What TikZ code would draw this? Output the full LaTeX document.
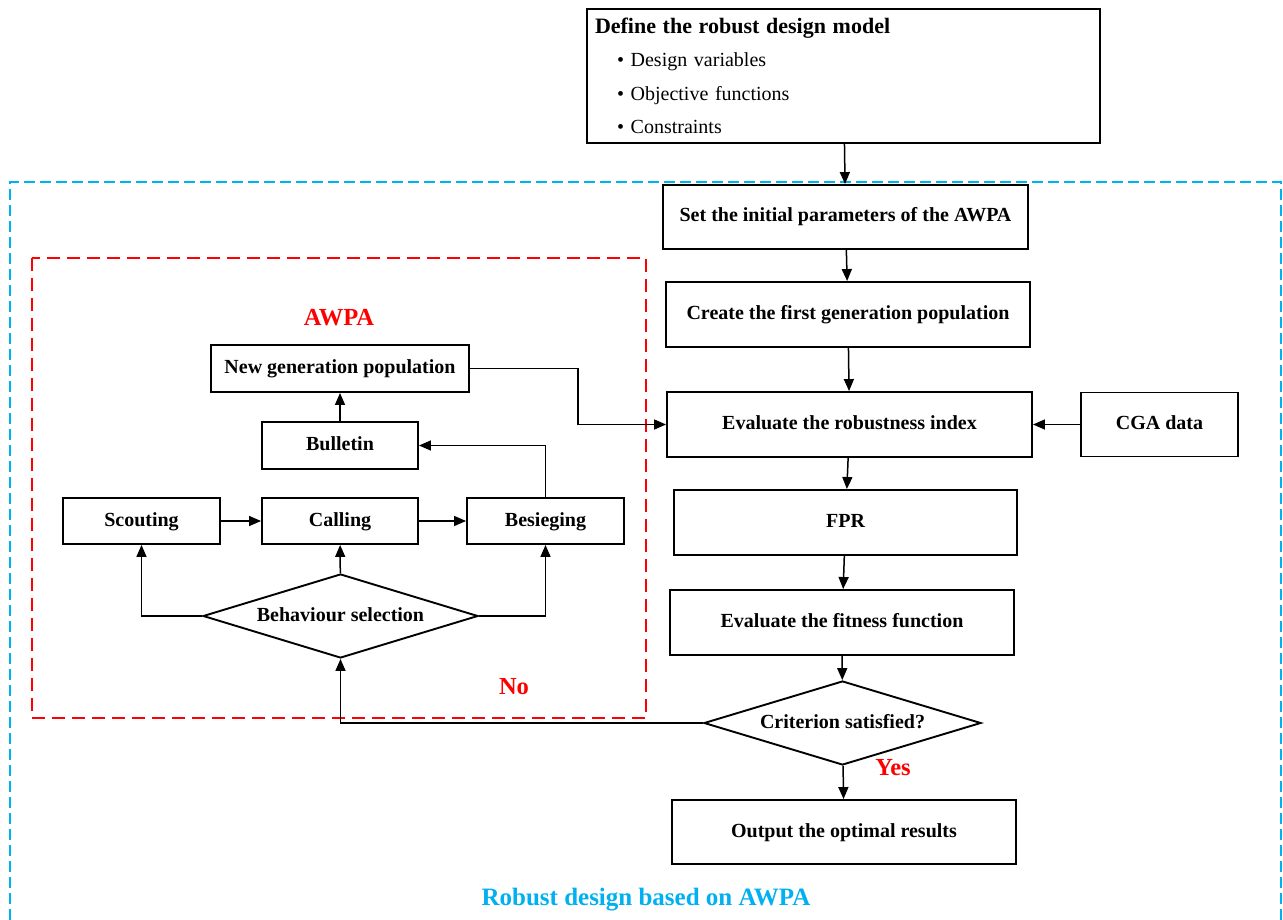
\documentclass[tikz,border=0pt]{standalone}
\usepackage{fontspec}
\setmainfont{Liberation Serif}
\usepackage{xcolor}
\usetikzlibrary{positioning, arrows.meta, shapes.geometric}
\definecolor{awpablue}{RGB}{0,176,240}

\begin{document}
\begin{tikzpicture}[x=1pt,y=-1pt,
  box/.style={draw, line width=1.9pt, inner sep=0pt, text height=14pt, text depth=4pt, font=\fontsize{20}{24}\selectfont\bfseries},
  choice/.style={draw, diamond, aspect=3.3, line width=1.9pt, inner sep=0pt, text height=14pt, text depth=4pt, font=\fontsize{20}{24}\selectfont\bfseries},
  arr/.style={line width=1.5pt, -{Triangle[length=12pt,width=10pt]}},
  tag/.style={text=red, font=\fontsize{24.5}{28}\selectfont\bfseries}]
\useasboundingbox (0,0) rectangle (1283,920);

% frames
\draw[awpablue, line width=2pt, dash pattern=on 11pt off 5pt] (10,920) -- (10,182) -- (1281,182) -- (1281,920);
\draw[red, line width=2.6pt, dash pattern=on 13pt off 7pt] (32,258) rectangle (646,718);
\node[text=awpablue, font=\fontsize{25}{30}\selectfont\bfseries] (robust) at (646,900) {Robust design based on AWPA};
\node[tag] (awpa) at (339,318) {AWPA};
\node[tag] (no) at (514,687) {No};
\node[tag] (yes) at (893,768) {Yes};

% model
\node[draw, line width=1.9pt, minimum height=134, text width=497, inner xsep=8pt, align=left,
  font=\fontsize{20}{33.5}\selectfont] (model) at (843.5,76)
  {{\fontsize{22}{33.5}\selectfont\bfseries Define the robust design model}\\
   \hspace*{22pt}\textbullet\ Design variables\\
   \hspace*{22pt}\textbullet\ Objective functions\\
   \hspace*{22pt}\textbullet\ Constraints};

% main column
\node[box, minimum width=365, minimum height=64] (set) at (845.5,217) {Set the initial parameters of the AWPA};
\node[box, minimum width=364, minimum height=65] (create) at (848,314.5) {Create the first generation population};
\node[box, minimum width=365, minimum height=65] (evalrob) at (849.5,424.5) {Evaluate the robustness index};
\node[box, minimum width=157, minimum height=64] (cga) at (1159.5,424.5) {CGA data};
\node[box, minimum width=343, minimum height=65] (fpr) at (845.5,522.5) {FPR};
\node[box, minimum width=344, minimum height=65] (fitness) at (842,622.5) {Evaluate the fitness function};
\node[choice, minimum width=277, minimum height=84] (crit) at (842.5,723) {Criterion satisfied?};
\node[box, minimum width=344, minimum height=64] (output) at (844,832) {Output the optimal results};

% AWPA loop
\node[box, minimum width=258, minimum height=47] (newgen) at (340,368.5) {New generation population};
\node[box, minimum width=156, minimum height=47] (bulletin) at (340,445.5) {Bulletin};
\node[box, minimum width=157, minimum height=46] (scouting) at (141.5,521) {Scouting};
\node[box, minimum width=156, minimum height=46] (calling) at (340,521) {Calling};
\node[box, minimum width=157, minimum height=46] (besieging) at (545.5,521) {Besieging};
\node[choice, minimum width=275, minimum height=84] (behav) at (340.5,616) {Behaviour selection};

% connectors
\draw[arr] (model) -- (set);
\draw[arr] (set) -- (create);
\draw[arr] (create) -- (evalrob);
\draw[arr] (cga) -- (evalrob);
\draw[arr] (evalrob) -- (fpr);
\draw[arr] (fpr) -- (fitness);
\draw[arr] (fitness) -- (crit);
\draw[arr] (crit) -- (output);
\draw[arr] (crit.west) -| (behav.south);
\draw[arr] (behav.west) -| (scouting.south);
\draw[arr] (behav) -- (calling);
\draw[arr] (behav.east) -| (besieging.south);
\draw[arr] (scouting) -- (calling);
\draw[arr] (calling) -- (besieging);
\draw[arr] (besieging.north) |- (bulletin.east);
\draw[arr] (bulletin) -- (newgen);
\draw[arr] (newgen.east) -- ++(108,0) |- (evalrob.west);

\end{tikzpicture}
\end{document}
